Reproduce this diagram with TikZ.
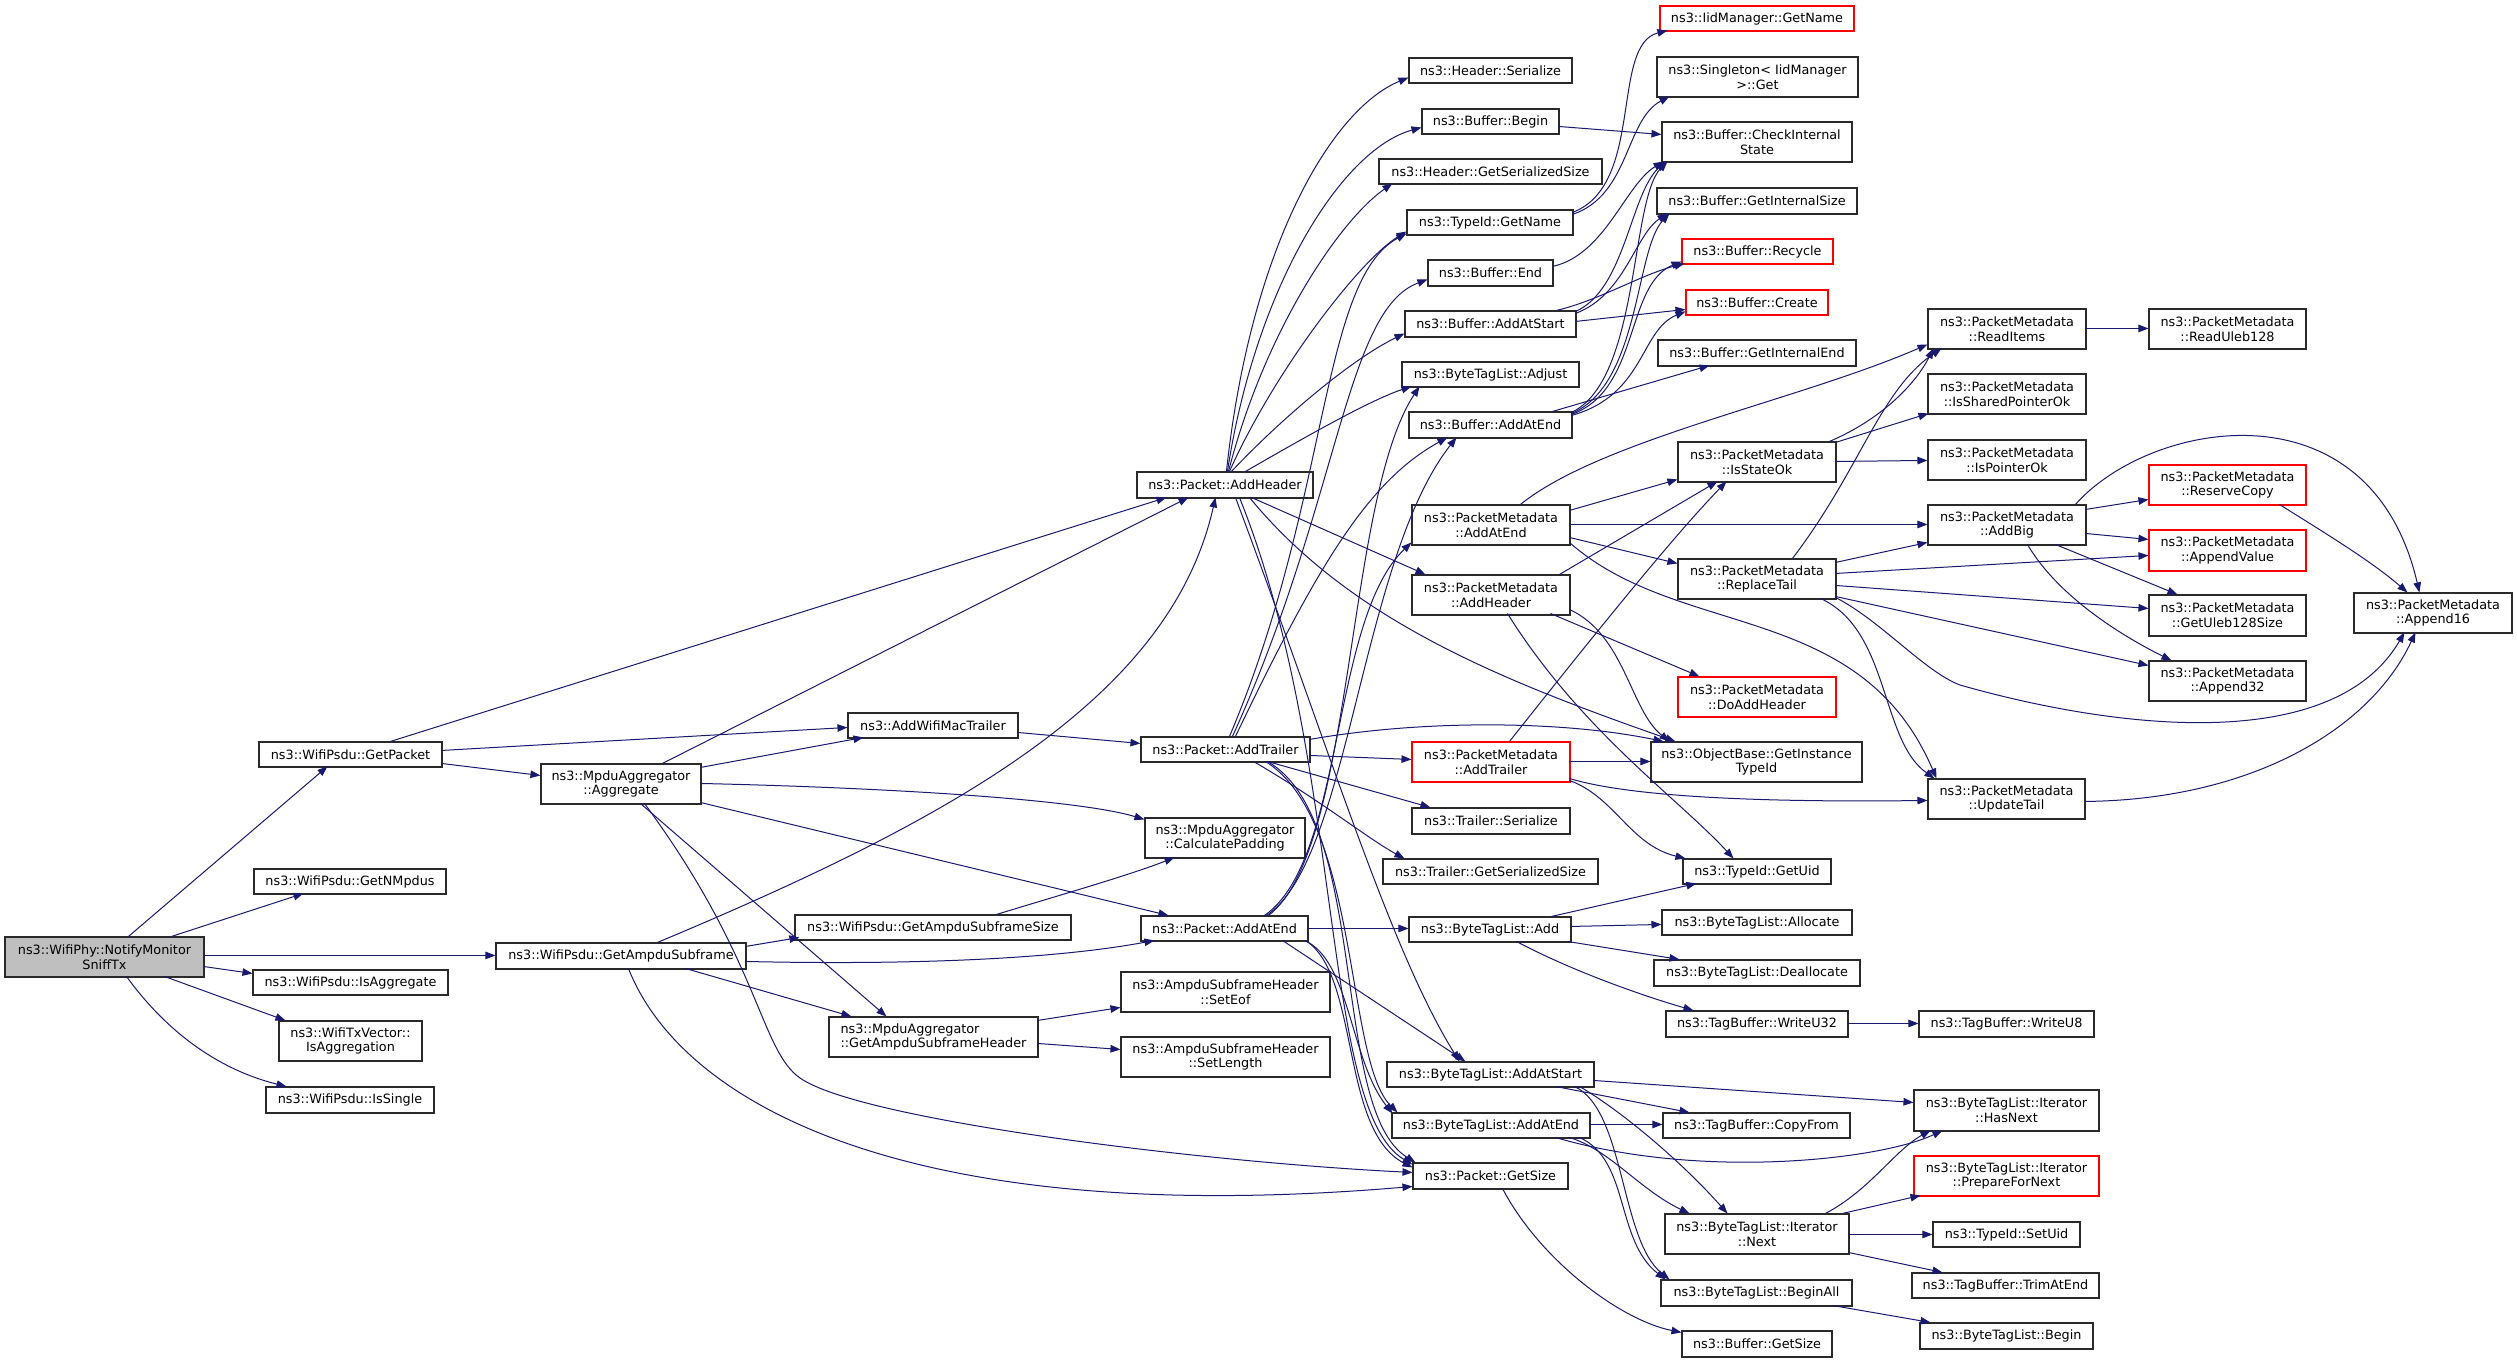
\documentclass[tikz,border=0pt]{standalone}
\usepackage{fontspec}
\setmainfont{DejaVu Sans}
\usetikzlibrary{arrows.meta}
\definecolor{edgec}{HTML}{191970}
\definecolor{rootc}{HTML}{BFBFBF}
\definecolor{bordc}{HTML}{2A2A2A}
\tikzset{
  nbox/.style={draw=bordc, line width=1.1pt, inner sep=0pt, align=center,
    font=\fontsize{12.8}{14.7}\selectfont},
  cx/.style={draw=edgec, line width=1pt, -{Triangle[length=10pt,width=7.5pt]}},
}
\newcommand\nd[7][]{\node[nbox,#1,minimum width=#5pt,minimum height=#6pt] (#2) at ({#3+#5/2},{#4+#6/2}) {#7};}
\newcommand\SL[6]{\draw[cx] ([shift={(#2,#3)}]#1.north west) -- ([shift={(#5,#6)}]#4.north west);}
\newcommand\CV[8]{\draw[cx] ([shift={(#2,#3)}]#1.north west) .. controls (#4) and (#5) .. ([shift={(#7,#8)}]#6.north west);}
\begin{document}
\begin{tikzpicture}[x=1pt,y=-1pt]
\useasboundingbox[fill=white] (0,0) rectangle (2517,1363);
% nodes
\nd[fill=rootc]{n0}{5}{937}{199}{40}{ns3::WifiPhy::NotifyMonitor\\SniffTx}
\nd{gp}{259}{742}{183}{25}{ns3::WifiPsdu::GetPacket}
\nd{gn}{254}{869}{192}{25}{ns3::WifiPsdu::GetNMpdus}
\nd{ia}{253}{970}{195}{25}{ns3::WifiPsdu::IsAggregate}
\nd{iag}{279}{1021}{143}{40}{ns3::WifiTxVector::\\IsAggregation}
\nd{is}{266}{1087}{168}{26}{ns3::WifiPsdu::IsSingle}
\nd{gas}{496}{943}{250}{26}{ns3::WifiPsdu::GetAmpduSubframe}
\nd{agg}{541}{764}{160}{40}{ns3::MpduAggregator\\::Aggregate}
\nd{awm}{848}{713}{170}{25}{ns3::AddWifiMacTrailer}
\nd{gss}{795}{915}{276}{25}{ns3::WifiPsdu::GetAmpduSubframeSize}
\nd[align=left]{gsh}{829}{1017}{209}{40}{ns3::MpduAggregator\\::GetAmpduSubframeHeader}
\nd{ph}{1137}{472}{176}{26}{ns3::Packet::AddHeader}
\nd{pt}{1141}{737}{169}{25}{ns3::Packet::AddTrailer}
\nd{pae}{1141}{916}{167}{25}{ns3::Packet::AddAtEnd}
\nd{cp}{1145}{818}{160}{40}{ns3::MpduAggregator\\::CalculatePadding}
\nd{eof}{1121}{972}{209}{40}{ns3::AmpduSubframeHeader\\::SetEof}
\nd{len}{1121}{1037}{209}{40}{ns3::AmpduSubframeHeader\\::SetLength}
\nd{hs}{1409}{58}{163}{25}{ns3::Header::Serialize}
\nd{bb}{1422}{109}{137}{25}{ns3::Buffer::Begin}
\nd{hgs}{1379}{159}{223}{25}{ns3::Header::GetSerializedSize}
\nd{tgn}{1407}{210}{166}{25}{ns3::TypeId::GetName}
\nd{be}{1428}{260}{125}{26}{ns3::Buffer::End}
\nd{bas}{1405}{311}{171}{26}{ns3::Buffer::AddAtStart}
\nd{adj}{1402}{362}{177}{25}{ns3::ByteTagList::Adjust}
\nd{bae}{1409}{412}{163}{26}{ns3::Buffer::AddAtEnd}
\nd{pmae}{1412}{505}{158}{40}{ns3::PacketMetadata\\::AddAtEnd}
\nd{pmah}{1412}{575}{158}{40}{ns3::PacketMetadata\\::AddHeader}
\nd[draw=red]{pmat}{1412}{742}{158}{40}{ns3::PacketMetadata\\::AddTrailer}
\nd{ts}{1412}{808}{158}{26}{ns3::Trailer::Serialize}
\nd{tgs}{1383}{859}{215}{25}{ns3::Trailer::GetSerializedSize}
\nd{bta}{1409}{917}{162}{25}{ns3::ByteTagList::Add}
\nd{btas}{1387}{1062}{207}{25}{ns3::ByteTagList::AddAtStart}
\nd{btae}{1392}{1113}{198}{25}{ns3::ByteTagList::AddAtEnd}
\nd{pgs}{1413}{1163}{155}{26}{ns3::Packet::GetSize}
\nd[draw=red]{iid}{1660}{6}{194}{25}{ns3::IidManager::GetName}
\nd{sg}{1657}{57}{201}{40}{ns3::Singleton< IidManager\\>::Get}
\nd{cis}{1662}{122}{190}{40}{ns3::Buffer::CheckInternal\\State}
\nd{gis}{1657}{188}{200}{26}{ns3::Buffer::GetInternalSize}
\nd[draw=red]{rec}{1682}{239}{151}{25}{ns3::Buffer::Recycle}
\nd[draw=red]{cre}{1686}{290}{142}{25}{ns3::Buffer::Create}
\nd{gie}{1658}{340}{198}{26}{ns3::Buffer::GetInternalEnd}
\nd{iso}{1678}{442}{158}{40}{ns3::PacketMetadata\\::IsStateOk}
\nd{rt}{1678}{559}{158}{40}{ns3::PacketMetadata\\::ReplaceTail}
\nd[draw=red]{dah}{1678}{677}{158}{40}{ns3::PacketMetadata\\::DoAddHeader}
\nd{git}{1651}{742}{211}{40}{ns3::ObjectBase::GetInstance\\TypeId}
\nd{uid}{1683}{859}{148}{25}{ns3::TypeId::GetUid}
\nd{all}{1662}{910}{190}{25}{ns3::ByteTagList::Allocate}
\nd{dea}{1654}{960}{206}{26}{ns3::ByteTagList::Deallocate}
\nd{wu32}{1666}{1011}{182}{26}{ns3::TagBuffer::WriteU32}
\nd{cf}{1663}{1113}{187}{25}{ns3::TagBuffer::CopyFrom}
\nd{nx}{1665}{1214}{184}{40}{ns3::ByteTagList::Iterator\\::Next}
\nd{ba}{1661}{1280}{191}{26}{ns3::ByteTagList::BeginAll}
\nd{bgs}{1682}{1331}{150}{26}{ns3::Buffer::GetSize}
\nd{ri}{1928}{309}{158}{40}{ns3::PacketMetadata\\::ReadItems}
\nd{ispo}{1928}{374}{158}{40}{ns3::PacketMetadata\\::IsSharedPointerOk}
\nd{ipo}{1928}{440}{158}{40}{ns3::PacketMetadata\\::IsPointerOk}
\nd{ab}{1928}{505}{158}{40}{ns3::PacketMetadata\\::AddBig}
\nd{ut}{1928}{779}{157}{40}{ns3::PacketMetadata\\::UpdateTail}
\nd{wu8}{1919}{1011}{175}{26}{ns3::TagBuffer::WriteU8}
\nd{hn}{1914}{1090}{185}{41}{ns3::ByteTagList::Iterator\\::HasNext}
\nd[draw=red]{pfn}{1914}{1156}{185}{40}{ns3::ByteTagList::Iterator\\::PrepareForNext}
\nd{su}{1933}{1222}{147}{25}{ns3::TypeId::SetUid}
\nd{tae}{1912}{1273}{187}{25}{ns3::TagBuffer::TrimAtEnd}
\nd{btb}{1920}{1323}{173}{26}{ns3::ByteTagList::Begin}
\nd{ru}{2149}{309}{157}{40}{ns3::PacketMetadata\\::ReadUleb128}
\nd[draw=red]{rc}{2149}{465}{157}{40}{ns3::PacketMetadata\\::ReserveCopy}
\nd[draw=red]{av}{2149}{530}{157}{41}{ns3::PacketMetadata\\::AppendValue}
\nd{gu}{2149}{595}{157}{41}{ns3::PacketMetadata\\::GetUleb128Size}
\nd{a32}{2149}{661}{157}{40}{ns3::PacketMetadata\\::Append32}
\nd{a16}{2354}{593}{158}{40}{ns3::PacketMetadata\\::Append16}
% edges from root
\SL{n0}{124}{0}{gp}{69}{25}
\SL{n0}{167}{0}{gn}{50}{25}
\SL{n0}{199}{19}{gas}{0}{13}
\SL{n0}{199}{30}{ia}{0}{4}
\SL{n0}{160}{40}{iag}{7}{0}
\CV{n0}{122}{40}{180,1050}{240,1075}{is}{21}{0}
% GetPacket
\SL{gp}{132}{0}{ph}{30}{26}
\SL{gp}{183}{9}{awm}{0}{15}
\SL{gp}{183}{22}{agg}{0}{12}
% Aggregate
\SL{agg}{122}{0}{ph}{52}{26}
\SL{agg}{160}{4}{awm}{16}{25}
\CV{agg}{160}{20}{900,788}{1080,800}{cp}{0}{2}
\SL{agg}{160}{39}{pae}{28}{0}
\SL{agg}{100}{40}{gsh}{58}{0}
\draw[cx] ([shift={(104,40)}]agg.north west) .. controls (760,960) and (760,1050) .. (800,1078) .. controls (860,1120) and (1200,1162) .. ([shift={(0,10)}]pgs.north west);
% GetAmpduSubframe
\CV{gas}{162}{0}{950,820}{1170,700}{ph}{79}{26}
\SL{gas}{250}{4}{gss}{5}{23}
\CV{gas}{250}{19}{900,965}{1050,960}{pae}{14}{25}
\SL{gas}{190}{26}{gsh}{23}{0}
\CV{gas}{133}{26}{680,1100}{900,1230}{pgs}{0}{24}
\CV{gss}{202}{0}{1060,895}{1130,875}{cp}{30}{40}
\SL{gsh}{209}{4}{eof}{0}{36}
\SL{gsh}{209}{27}{len}{0}{13}
\SL{awm}{170}{20}{pt}{0}{7}
% Packet::AddHeader
\CV{ph}{90}{0}{1250,250}{1330,110}{hs}{0}{20}
\CV{ph}{91}{0}{1255,290}{1340,150}{bb}{0}{19}
\CV{ph}{92}{0}{1265,330}{1340,220}{hgs}{14}{25}
\CV{ph}{93}{0}{1275,370}{1360,260}{tgn}{0}{22}
\CV{ph}{95}{0}{1280,420}{1350,360}{bas}{0}{23}
\CV{ph}{109}{0}{1300,440}{1370,400}{adj}{10}{25}
\SL{ph}{115}{26}{pmah}{14}{0}
\CV{ph}{113}{26}{1350,620}{1500,680}{git}{25}{0}
\CV{ph}{99}{26}{1330,750}{1390,950}{btas}{73}{0}
\CV{ph}{103}{26}{1345,760}{1320,1110}{pgs}{0}{2}
% Packet::AddTrailer
\CV{pt}{89}{0}{1330,500}{1320,280}{tgn}{0}{24}
\CV{pt}{92}{0}{1340,500}{1345,310}{be}{0}{20}
\CV{pt}{95}{0}{1320,560}{1370,480}{bae}{39}{26}
\SL{pt}{169}{19}{pmat}{0}{18}
\CV{pt}{169}{3}{1420,720}{1560,720}{git}{13}{0}
\SL{pt}{127}{25}{ts}{19}{0}
\CV{pt}{113}{25}{1320,800}{1370,840}{tgs}{22}{0}
\CV{pt}{125}{25}{1360,820}{1345,1060}{btae}{6}{0}
\CV{pt}{127}{25}{1370,820}{1330,1110}{pgs}{3}{0}
% Packet::AddAtEnd
\CV{pae}{126}{0}{1350,860}{1360,560}{bae}{48}{26}
\CV{pae}{124}{0}{1345,860}{1330,620}{pmae}{0}{38}
\CV{pae}{128}{0}{1355,850}{1345,500}{adj}{18}{25}
\SL{pae}{167}{13}{bta}{0}{12}
\SL{pae}{142}{25}{btas}{79}{0}
\CV{pae}{164}{25}{1350,960}{1350,1060}{btae}{1}{1}
\CV{pae}{165}{25}{1360,975}{1340,1130}{pgs}{0}{5}
% Buffer column
\SL{bb}{137}{18}{cis}{0}{13}
\CV{be}{125}{7}{1605,255}{1625,185}{cis}{2}{40}
\CV{tgn}{166}{3}{1645,185}{1610,45}{iid}{8}{25}
\CV{tgn}{166}{5}{1630,195}{1625,120}{sg}{13}{40}
\CV{bas}{171}{1}{1625,290}{1630,195}{cis}{4}{40}
\CV{bas}{171}{3}{1625,295}{1635,235}{gis}{11}{26}
\CV{bas}{152}{0}{1600,300}{1640,275}{rec}{3}{25}
\SL{bas}{171}{11}{cre}{0}{20}
\CV{bae}{163}{1}{1640,380}{1630,200}{cis}{6}{40}
\CV{bae}{163}{2}{1640,385}{1635,250}{gis}{13}{26}
\CV{bae}{163}{3}{1640,390}{1625,285}{rec}{0}{23}
\CV{bae}{163}{4}{1645,395}{1640,330}{cre}{0}{22}
\SL{bae}{144}{0}{gie}{52}{26}
% PacketMetadata
\CV{pmae}{109}{0}{1600,440}{1800,400}{ri}{0}{36}
\SL{pmae}{158}{6}{iso}{0}{38}
\SL{pmae}{158}{20}{ab}{0}{20}
\SL{pmae}{158}{33}{rt}{0}{5}
\CV{pmae}{158}{38}{1680,640}{1860,600}{ut}{9}{0}
\SL{pmah}{148}{0}{iso}{40}{40}
\SL{pmah}{139}{39}{dah}{22}{0}
\CV{pmah}{158}{35}{1625,635}{1630,710}{git}{19}{0}
\CV{pmah}{96}{39}{1580,730}{1680,800}{uid}{51}{0}
\CV{pmat}{98}{0}{1590,640}{1670,540}{iso}{49}{40}
\SL{pmat}{158}{20}{git}{0}{20}
\CV{pmat}{158}{37}{1640,800}{1800,802}{ut}{0}{22}
\CV{pmat}{158}{39}{1615,797}{1630,845}{uid}{3}{0}
\CV{iso}{152}{0}{1880,420}{1915,385}{ri}{6}{40}
\SL{iso}{158}{1}{ispo}{1}{40}
\SL{iso}{158}{20}{ipo}{0}{21}
\CV{rt}{115}{0}{1860,470}{1880,390}{ri}{14}{40}
\SL{rt}{158}{4}{ab}{0}{38}
\SL{rt}{158}{15}{av}{0}{26}
\SL{rt}{158}{27}{gu}{0}{14}
\SL{rt}{158}{38}{a32}{0}{5}
\CV{rt}{143}{40}{1890,630}{1880,740}{ut}{7}{0}
\draw[cx] ([shift={(158,39)}]rt.north west) .. controls (1880,620) and (1925,672) .. (1960,685) .. controls (2100,725) and (2330,760) .. ([shift={(51,40)}]a16.north west);
\CV{ab}{148}{0}{2150,420}{2370,380}{a16}{66}{0}
\SL{ab}{158}{5}{rc}{0}{35}
\SL{ab}{158}{29}{av}{0}{10}
\SL{ab}{128}{40}{gu}{29}{0}
\CV{ab}{100}{40}{2060,600}{2130,640}{a32}{23}{0}
\CV{rc}{131}{40}{2320,530}{2370,560}{a16}{54}{0}
\CV{ut}{157}{23}{2250,800}{2370,730}{a16}{62}{40}
\SL{ri}{158}{20}{ru}{0}{20}
% ByteTagList
\SL{bta}{143}{0}{uid}{14}{25}
\SL{bta}{162}{10}{all}{0}{15}
\SL{bta}{159}{25}{dea}{26}{0}
\CV{bta}{108}{25}{1570,970}{1640,995}{wu32}{28}{0}
\SL{wu32}{182}{13}{wu8}{0}{13}
\SL{btas}{207}{19}{hn}{0}{13}
\SL{btas}{169}{25}{cf}{27}{0}
\CV{btas}{193}{25}{1620,1110}{1680,1160}{nx}{63}{0}
\CV{btas}{188}{25}{1625,1110}{1620,1240}{ba}{9}{0}
\SL{btae}{198}{12}{cf}{0}{12}
\CV{btae}{164}{25}{1700,1180}{1880,1160}{hn}{29}{41}
\CV{btae}{178}{25}{1610,1150}{1640,1190}{nx}{25}{0}
\CV{btae}{188}{25}{1630,1160}{1615,1240}{ba}{5}{0}
\CV{nx}{161}{0}{1870,1190}{1895,1150}{hn}{17}{41}
\SL{nx}{178}{0}{pfn}{7}{40}
\SL{nx}{184}{21}{su}{0}{13}
\SL{nx}{184}{39}{tae}{31}{0}
\SL{ba}{172}{26}{btb}{11}{0}
\CV{pgs}{90}{26}{1540,1260}{1620,1320}{bgs}{0}{2}
\end{tikzpicture}
\end{document}
